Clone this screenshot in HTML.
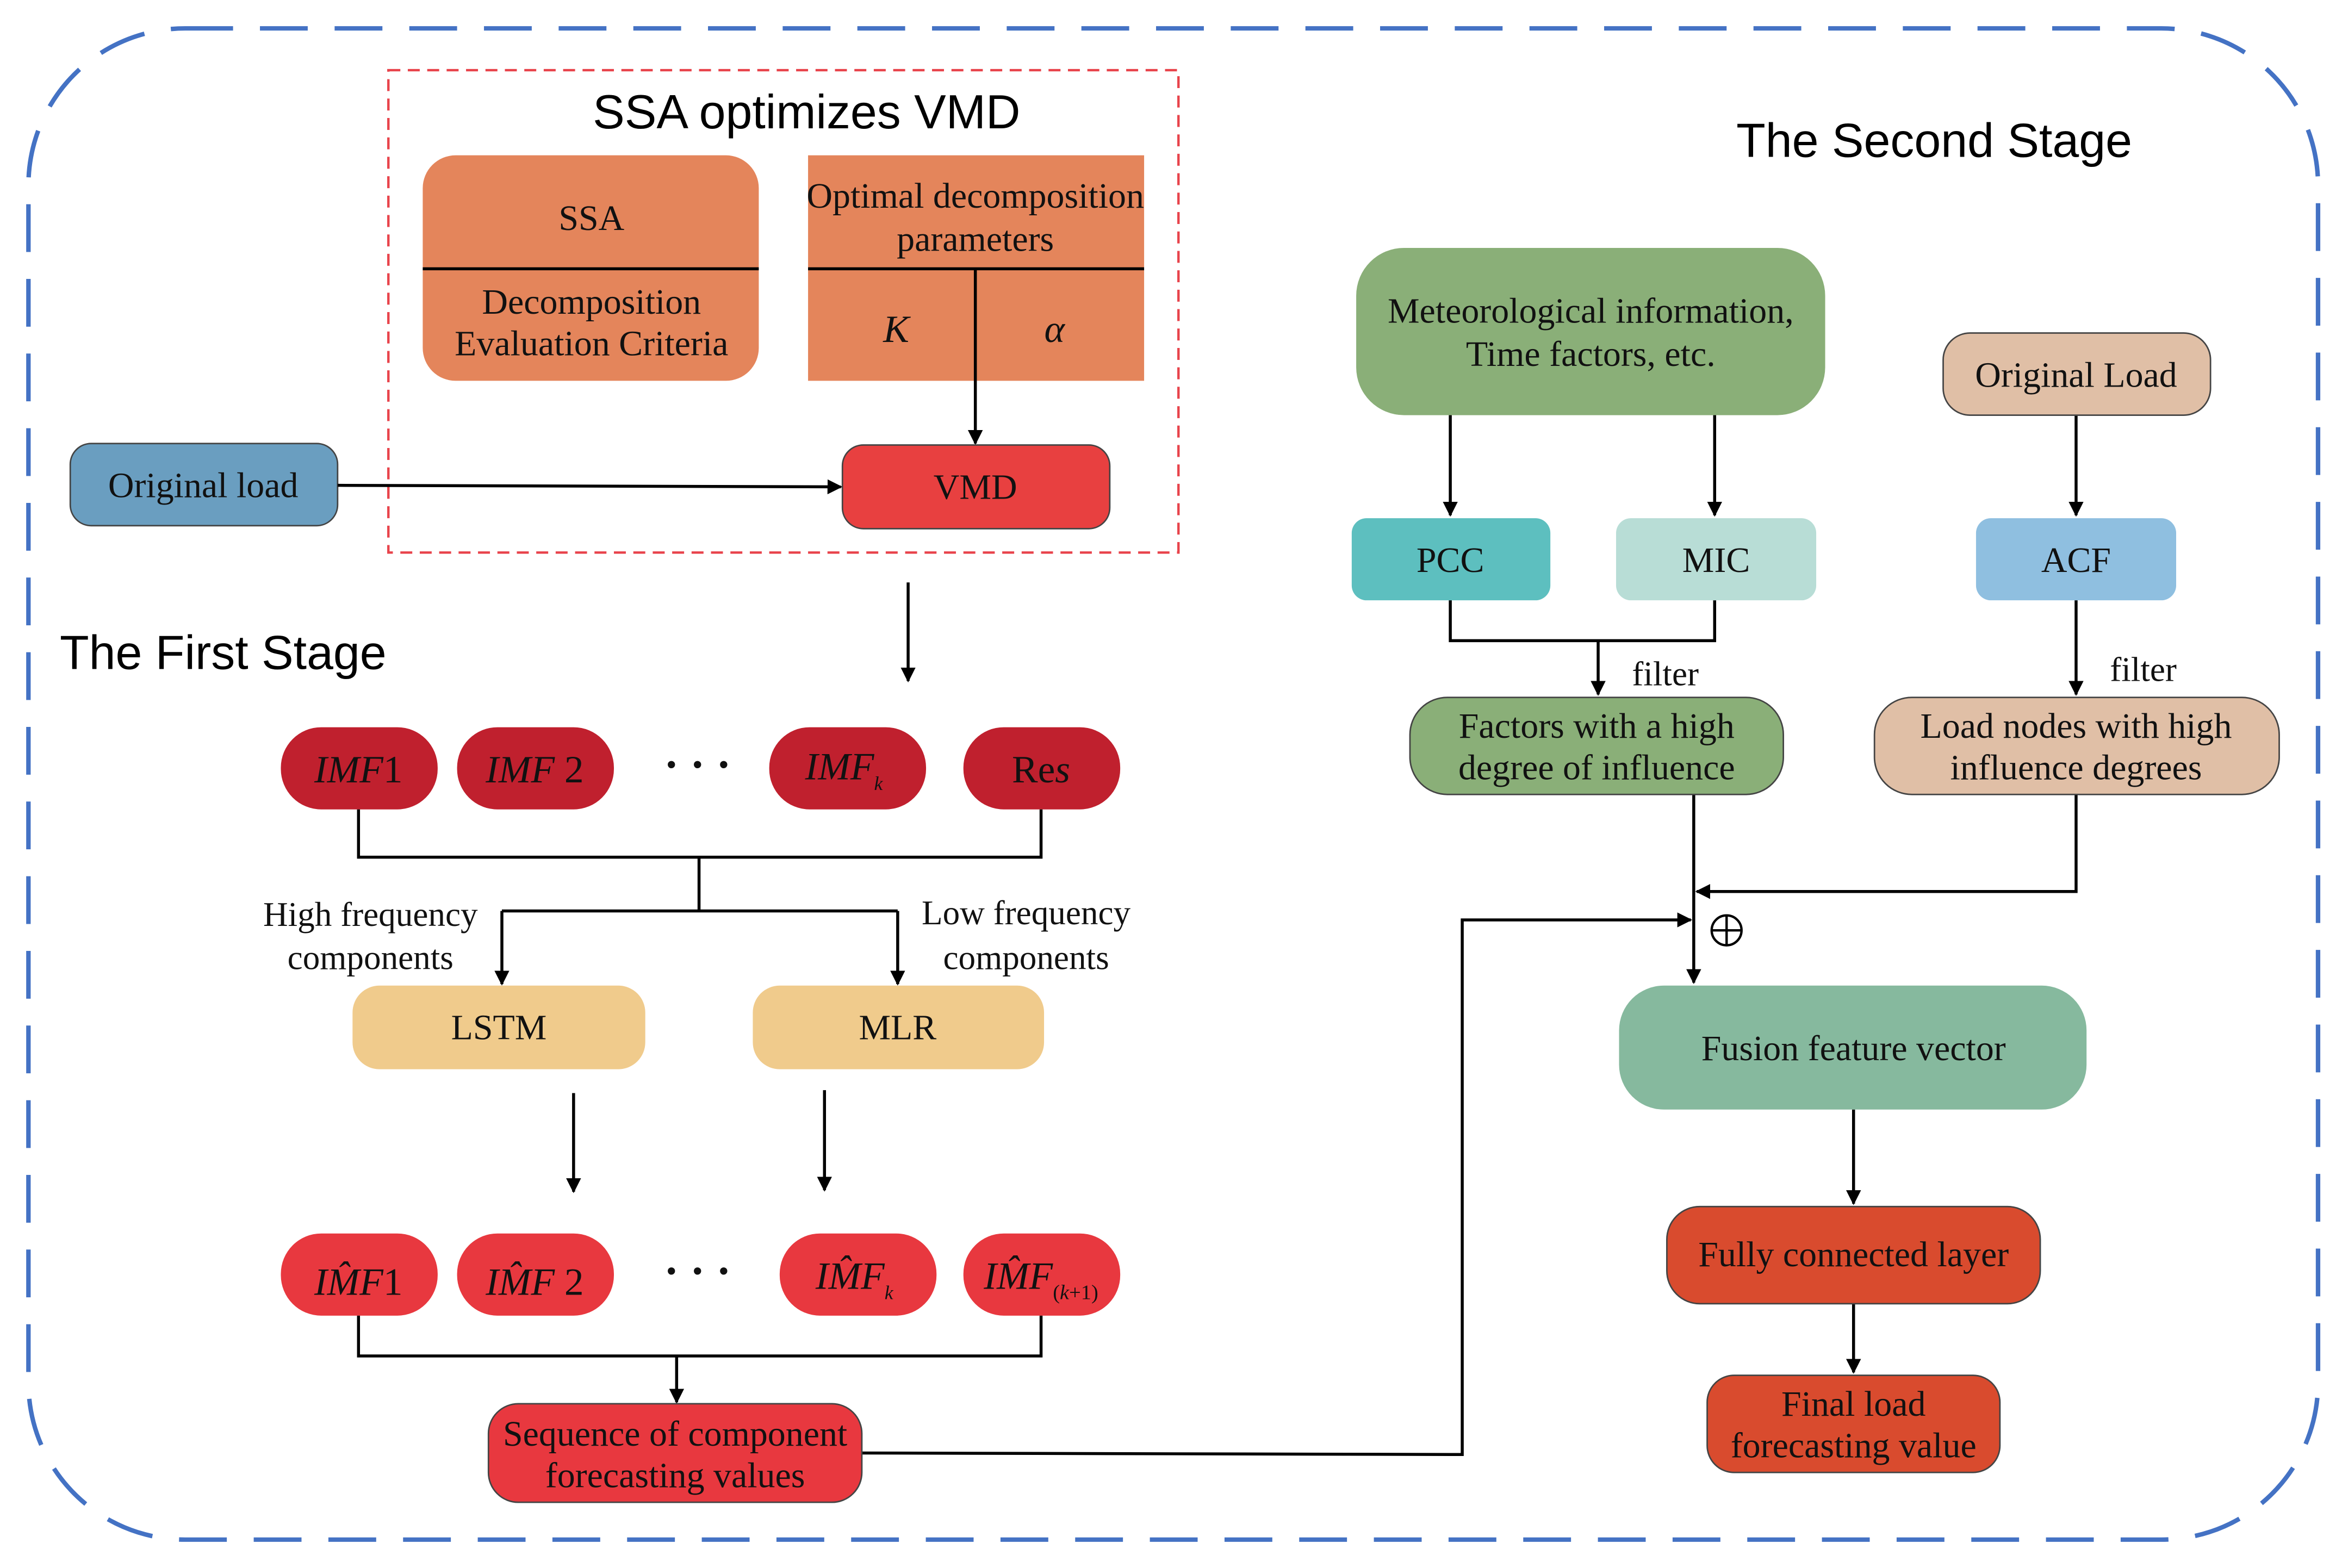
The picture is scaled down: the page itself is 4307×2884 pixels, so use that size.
<!DOCTYPE html>
<html><head><meta charset="utf-8"><style>
html,body{margin:0;padding:0;background:#fff;}
svg{display:block;}
.s{font-family:"Liberation Serif",serif;fill:#111;}
.a{font-family:"Liberation Sans",sans-serif;fill:#000;}
</style></head><body>
<svg width="4307" height="2884" viewBox="0 0 1568 1050" xmlns="http://www.w3.org/2000/svg">
<defs><marker id="ar" markerWidth="10" markerHeight="10" refX="9" refY="5" orient="auto" markerUnits="userSpaceOnUse"><path d="M0,0 L10,5 L0,10 z" fill="#000"/></marker></defs>
<rect width="1568" height="1050" fill="#fff"/>
<rect x="19" y="19" width="1533" height="1012" rx="105" fill="none" stroke="#4472C4" stroke-width="3" stroke-dasharray="32,18"/>
<rect x="260" y="47" width="529" height="323" fill="none" stroke="#E8434B" stroke-width="1.6" stroke-dasharray="8,5"/>
<text x="540" y="86" class="a" font-size="32" text-anchor="middle">SSA optimizes VMD</text>
<rect x="283" y="104" width="225" height="151" rx="22" fill="#E4855B"/>
<rect x="541" y="104" width="225" height="151" fill="#E4855B"/>
<line x1="283" y1="180" x2="508" y2="180" stroke="#000" stroke-width="2"/>
<line x1="541" y1="180" x2="766" y2="180" stroke="#000" stroke-width="2"/>
<text x="396" y="154" class="s" font-size="24" text-anchor="middle">SSA</text>
<text x="396" y="210" class="s" font-size="24" text-anchor="middle">Decomposition</text>
<text x="396" y="238" class="s" font-size="24" text-anchor="middle">Evaluation Criteria</text>
<text x="653" y="139" class="s" font-size="24" text-anchor="middle">Optimal decomposition</text>
<text x="653" y="168" class="s" font-size="24" text-anchor="middle">parameters</text>
<text x="600" y="229" class="s" font-size="26" font-style="italic" text-anchor="middle">K</text>
<text x="706" y="229" class="s" font-size="26" font-style="italic" text-anchor="middle">α</text>
<line x1="653" y1="180" x2="653" y2="297" stroke="#000" stroke-width="2" marker-end="url(#ar)"/>
<rect x="564" y="298" width="179" height="56" rx="14" fill="#E84040" stroke="#444" stroke-width="1"/>
<text x="653" y="334" class="s" font-size="24" text-anchor="middle">VMD</text>
<rect x="47" y="297" width="179" height="55" rx="14" fill="#6A9EC0" stroke="#444" stroke-width="1"/>
<text x="136" y="333" class="s" font-size="24" text-anchor="middle">Original load</text>
<line x1="226" y1="325" x2="563" y2="326" stroke="#000" stroke-width="2" marker-end="url(#ar)"/>
<text x="40" y="448" class="a" font-size="32">The First Stage</text>
<line x1="608" y1="390" x2="608" y2="456" stroke="#000" stroke-width="2" marker-end="url(#ar)"/>
<g fill="#C0202E">
<rect x="188" y="487" width="105" height="55" rx="27"/>
<rect x="306" y="487" width="105" height="55" rx="27"/>
<rect x="515" y="487" width="105" height="55" rx="27"/>
<rect x="645" y="487" width="105" height="55" rx="27"/>
</g>
<text x="240" y="524" class="s" font-size="26" text-anchor="middle"><tspan font-style="italic">IMF</tspan>1</text>
<text x="358" y="524" class="s" font-size="26" text-anchor="middle"><tspan font-style="italic">IMF</tspan> 2</text>
<text x="467" y="522" class="s" font-size="30" font-weight="bold" text-anchor="middle">· · ·</text>
<text x="565" y="522" class="s" font-size="26" text-anchor="middle" font-style="italic">IMF<tspan font-size="13" dy="7">k</tspan></text>
<text x="697" y="524" class="s" font-size="26" text-anchor="middle">Re<tspan font-style="italic">s</tspan></text>
<g stroke="#000" stroke-width="2" fill="none">
<polyline points="240,542 240,574 697,574 697,542"/>
<polyline points="468,574 468,610"/>
<polyline points="336,610 601,610"/>
<line x1="336" y1="610" x2="336" y2="659" marker-end="url(#ar)"/>
<line x1="601" y1="610" x2="601" y2="659" marker-end="url(#ar)"/>
<line x1="384" y1="732" x2="384" y2="798" marker-end="url(#ar)"/>
<line x1="552" y1="730" x2="552" y2="797" marker-end="url(#ar)"/>
</g>
<text x="248" y="620" class="s" font-size="23" text-anchor="middle">High frequency</text>
<text x="248" y="649" class="s" font-size="23" text-anchor="middle">components</text>
<text x="687" y="619" class="s" font-size="23" text-anchor="middle">Low frequency</text>
<text x="687" y="649" class="s" font-size="23" text-anchor="middle">components</text>
<rect x="236" y="660" width="196" height="56" rx="18" fill="#F0CB8C"/>
<rect x="504" y="660" width="195" height="56" rx="18" fill="#F0CB8C"/>
<text x="334" y="696" class="s" font-size="24" text-anchor="middle">LSTM</text>
<text x="601" y="696" class="s" font-size="24" text-anchor="middle">MLR</text>
<g fill="#E8383F">
<rect x="188" y="826" width="105" height="55" rx="27"/>
<rect x="306" y="826" width="105" height="55" rx="27"/>
<rect x="522" y="826" width="105" height="55" rx="27"/>
<rect x="645" y="826" width="105" height="55" rx="27"/>
</g>
<text x="240" y="867" class="s" font-size="26" text-anchor="middle"><tspan font-style="italic">IM̂F</tspan>1</text>
<text x="358" y="867" class="s" font-size="26" text-anchor="middle"><tspan font-style="italic">IM̂F</tspan> 2</text>
<text x="467" y="861" class="s" font-size="30" font-weight="bold" text-anchor="middle">· · ·</text>
<text x="572" y="863" class="s" font-size="26" text-anchor="middle" font-style="italic">IM̂F<tspan font-size="13" dy="7">k</tspan></text>
<text x="697" y="863" class="s" font-size="26" text-anchor="middle" font-style="italic">IM̂F<tspan font-size="14" dy="7" font-style="normal">(</tspan><tspan font-size="14">k</tspan><tspan font-size="14" font-style="normal">+1)</tspan></text>
<g stroke="#000" stroke-width="2" fill="none">
<polyline points="240,881 240,908 697,908 697,881"/>
<line x1="453" y1="908" x2="453" y2="939" marker-end="url(#ar)"/>
<polyline points="577,973 979,974 979,616 1132,616" marker-end="url(#ar)"/>
</g>
<rect x="327" y="940" width="250" height="66" rx="20" fill="#E8383F" stroke="#444" stroke-width="1"/>
<text x="452" y="968" class="s" font-size="24" text-anchor="middle">Sequence of component</text>
<text x="452" y="996" class="s" font-size="24" text-anchor="middle">forecasting values</text>
<text x="1295" y="105" class="a" font-size="32" text-anchor="middle">The Second Stage</text>
<rect x="908" y="166" width="314" height="112" rx="32" fill="#8AAF78"/>
<text x="1065" y="216" class="s" font-size="24" text-anchor="middle">Meteorological information,</text>
<text x="1065" y="245" class="s" font-size="24" text-anchor="middle">Time factors, etc.</text>
<g stroke="#000" stroke-width="2" fill="none">
<line x1="971" y1="278" x2="971" y2="345" marker-end="url(#ar)"/>
<line x1="1148" y1="278" x2="1148" y2="345" marker-end="url(#ar)"/>
<polyline points="971,402 971,429 1148,429 1148,402"/>
<line x1="1070" y1="429" x2="1070" y2="465" marker-end="url(#ar)"/>
<line x1="1390" y1="278" x2="1390" y2="345" marker-end="url(#ar)"/>
<line x1="1390" y1="402" x2="1390" y2="465" marker-end="url(#ar)"/>
<polyline points="1390,532 1390,597 1136,597" marker-end="url(#ar)"/>
<line x1="1134" y1="532" x2="1134" y2="658" marker-end="url(#ar)"/>
<circle cx="1156" cy="623" r="10" stroke-width="1.6"/>
<line x1="1146" y1="623" x2="1166" y2="623" stroke-width="1.6"/>
<line x1="1156" y1="613" x2="1156" y2="633" stroke-width="1.6"/>
<line x1="1241" y1="743" x2="1241" y2="806" marker-end="url(#ar)"/>
<line x1="1241" y1="873" x2="1241" y2="919" marker-end="url(#ar)"/>
</g>
<rect x="905" y="347" width="133" height="55" rx="10" fill="#5DBFBF"/>
<rect x="1082" y="347" width="134" height="55" rx="10" fill="#B8DDD6"/>
<text x="971" y="383" class="s" font-size="24" text-anchor="middle">PCC</text>
<text x="1149" y="383" class="s" font-size="24" text-anchor="middle">MIC</text>
<text x="1115" y="459" class="s" font-size="23" text-anchor="middle">filter</text>
<text x="1435" y="456" class="s" font-size="23" text-anchor="middle">filter</text>
<rect x="944" y="467" width="250" height="65" rx="25" fill="#8AAF78" stroke="#444" stroke-width="1"/>
<text x="1069" y="494" class="s" font-size="24" text-anchor="middle">Factors with a high</text>
<text x="1069" y="522" class="s" font-size="24" text-anchor="middle">degree of influence</text>
<rect x="1301" y="223" width="179" height="55" rx="18" fill="#E0BFA6" stroke="#444" stroke-width="1"/>
<text x="1390" y="259" class="s" font-size="24" text-anchor="middle">Original Load</text>
<rect x="1323" y="347" width="134" height="55" rx="10" fill="#8FBFE0"/>
<text x="1390" y="383" class="s" font-size="24" text-anchor="middle">ACF</text>
<rect x="1255" y="467" width="271" height="65" rx="25" fill="#E0BFA6" stroke="#444" stroke-width="1"/>
<text x="1390" y="494" class="s" font-size="24" text-anchor="middle">Load nodes with high</text>
<text x="1390" y="522" class="s" font-size="24" text-anchor="middle">influence degrees</text>
<rect x="1084" y="660" width="313" height="83" rx="30" fill="#86B99E"/>
<text x="1241" y="710" class="s" font-size="24" text-anchor="middle">Fusion feature vector</text>
<rect x="1116" y="808" width="250" height="65" rx="22" fill="#D94B2E" stroke="#444" stroke-width="1"/>
<text x="1241" y="848" class="s" font-size="24" text-anchor="middle">Fully connected layer</text>
<rect x="1143" y="921" width="196" height="65" rx="18" fill="#D94B2E" stroke="#444" stroke-width="1"/>
<text x="1241" y="948" class="s" font-size="24" text-anchor="middle">Final load</text>
<text x="1241" y="976" class="s" font-size="24" text-anchor="middle">forecasting value</text>
</svg>
</body></html>
